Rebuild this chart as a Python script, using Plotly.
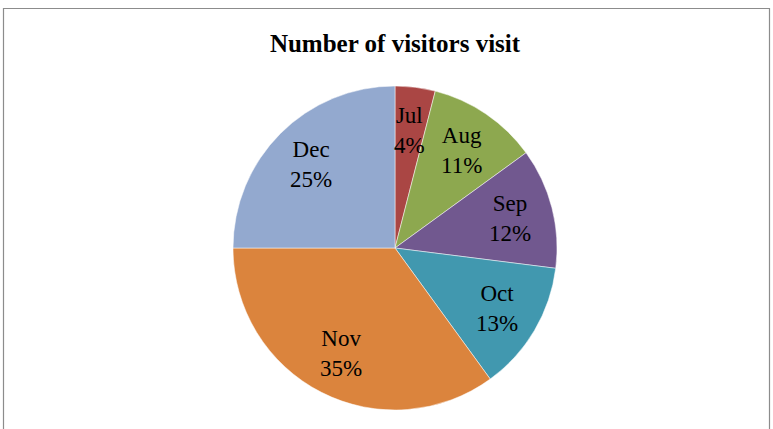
import math
import plotly.graph_objects as go

months = ["Jul", "Aug", "Sep", "Oct", "Nov", "Dec"]
shares = [4, 11, 12, 13, 35, 25]
colors = ["#AA4644", "#8DA84F", "#71588F", "#4198AF", "#DB843D", "#93A9CF"]

W, H = 773, 429
dom_x = [233 / W, 557 / W]
dom_y = [19 / H, 343 / H]

fig = go.Figure(go.Pie(
    labels=months,
    values=shares,
    sort=False,
    direction="clockwise",
    rotation=0,
    marker=dict(colors=colors, line=dict(color="white", width=0.5)),
    textinfo="none",
    showlegend=False,
    hoverinfo="label+percent",
    domain=dict(x=dom_x, y=dom_y),
))

# data labels placed along each slice's mid-angle (Excel "best fit" style)
total = sum(shares)
cx = (dom_x[0] + dom_x[1]) / 2
cy = (dom_y[0] + dom_y[1]) / 2
R = (dom_x[1] - dom_x[0]) * W / 2
r_lab = 0.73 * R
annotations = []
cum = 0
for m, v in zip(months, shares):
    mid = (cum + v / 2) / total * 2 * math.pi
    cum += v
    annotations.append(dict(
        x=cx + r_lab * math.sin(mid) / W,
        y=cy + r_lab * math.cos(mid) / H,
        xref="paper", yref="paper",
        text=f"{m}<br>{round(v / total * 100)}%",
        showarrow=False,
        xanchor="center", yanchor="middle",
        font=dict(family="Liberation Serif", size=23, color="black"),
    ))

fig.update_layout(
    width=W, height=H,
    margin=dict(l=0, r=0, t=0, b=0),
    paper_bgcolor="white",
    annotations=annotations,
    title=dict(
        text="<b>Number of visitors visit</b>",
        x=395 / W, xanchor="center",
        y=1 - 43 / H, yanchor="middle",
        font=dict(family="Liberation Serif", size=25, color="black"),
    ),
    shapes=[dict(
        type="rect", xref="paper", yref="paper",
        x0=3.5 / W, x1=769.5 / W, y0=-0.1, y1=1 - 8.5 / H,
        line=dict(color="#8c8c8c", width=1.2), fillcolor="rgba(0,0,0,0)",
    )],
)

fig.write_html("out.html", config={"displayModeBar": False},
               post_script="document.body.style.margin='0';")
